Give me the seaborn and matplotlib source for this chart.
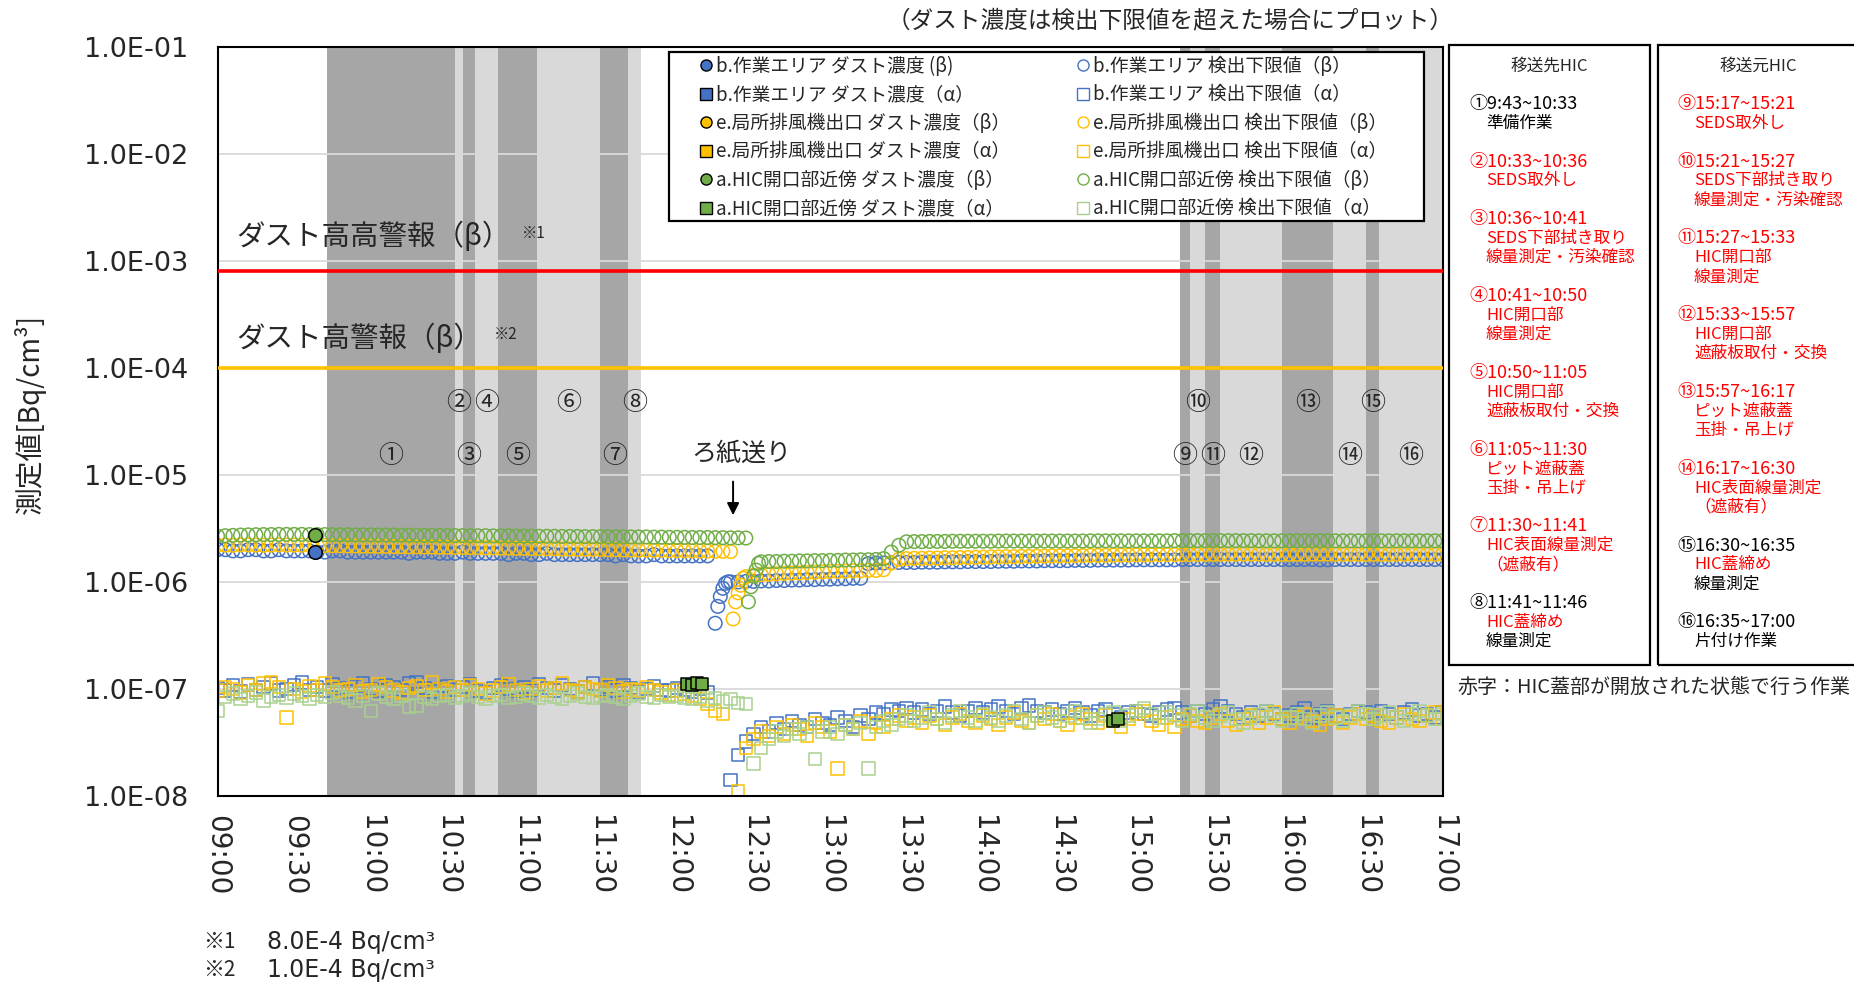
import matplotlib
matplotlib.use("Agg")
import matplotlib.pyplot as plt
import matplotlib.dates as mdates
import matplotlib.transforms as mtransforms
from matplotlib.lines import Line2D
from matplotlib.patches import Rectangle
from matplotlib.ticker import FuncFormatter, NullLocator
import seaborn as sns
import numpy as np
import pandas as pd

W, H = 1854, 984
DAY = "2024-01-01 "
nan = np.nan

# measurement grid (3 min) 09:00 - 17:00
grid_times = pd.date_range(DAY + "09:00", DAY + "17:00", freq="3min")

# detection limit (beta), unit 1e-8 Bq/cm3
b_beta_dl = [200, 200, 195, 195, 200, 200, 195, 195, 200, 195,
             195, 195, 195, 190, 190, 195, 195, 190, 190, 190,
             190, 190, 190, 190, 190, 185, 190, 190, 190, 185,
             185, 185, 190, 185, 185, 185, 185, 185, 180, 185,
             185, 180, 180, 185, 180, 180, 180, 180, 180, 180,
             180, 180, 175, 180, 175, 175, 175, 180, 175, 175,
             175, 175, 175, 175, 175, nan, nan,
             100, 100, 101,
             101, 102, 102, 103, 103, 104, 104, 105, 105, 106,
             106, 107, 107, 108, 108,
             148, 150, 150, 151, 152, 152,
             152, 153, 153, 153, 154, 154, 154, 155, 155,
             155, 155, 156, 156, 156, 157, 157, 157, 158, 158,
             158, 158, 159, 159, 159, 160, 160, 160, 160, 160,
             161, 161, 161, 161, 161, 161, 162, 162, 162, 162,
             162, 162, 162, 162, 162, 162, 162, 162, 162, 162,
             162, 162, 162, 162, 161, 161, 162, 162, 162, 162,
             162, 162, 162, 162, 162, 162, 162, 162, 162, 162, 162]
e_beta_dl = [220, 221, 220, 222, 222, 221, 220, 221, 222, 221,
             221, 220, 220, 219, 219, 218, 218, 217, 217, 216,
             216, 215, 215, 214, 214, 213, 213, 212, 212, 211,
             211, 210, 210, 209, 209, 208, 208, 207, 207, 206,
             206, 205, 205, 204, 204, 203, 203, 202, 202, 201,
             201, 200, 200, 199, 199, 198, 198, 197, 197, 196,
             196, 195, 195, 194, 194, 193, 193, 192,
             nan, 112,
             115, 117, 118, 119, 120, 121, 121, 122, 123, 124,
             125, 125, 126, 127, 127, 128, 128,
             130, 150, 163, 165,
             166, 166, 167, 167, 168, 168, 169, 169, 170,
             170, 171, 171, 172, 172, 173, 173, 174, 174, 175,
             175, 175, 176, 176, 177, 177, 177, 178, 178, 178,
             179, 179, 179, 180, 180, 180, 180, 180, 181, 181,
             181, 181, 181, 181, 182, 182, 182, 181, 181, 181,
             181, 181, 181, 182, 182, 182, 181, 181, 181, 181,
             181, 181, 181, 181, 181, 181, 181, 181, 181, 181, 181]
a_beta_dl = [268, 270, 272, 274, 275, 276, 277, 277, 278, 278,
             278, 278, 277, 277, 277, 276, 276, 276, 275, 275,
             275, 274, 274, 274, 273, 273, 273, 272, 272, 272,
             271, 271, 271, 270, 270, 270, 269, 269, 269, 268,
             268, 268, 267, 267, 267, 266, 266, 266, 265, 265,
             265, 264, 264, 264, 263, 263, 263, 262, 262, 261,
             261, 261, 260, 260, 260, 259, 259, 258, 258, 257,
             nan,
             154, 155, 155, 156, 156, 157, 157, 158, 158,
             159, 159, 160, 160, 161, 161, 162, 165,
             190, 220, 237,
             238, 238, 239, 239, 239, 240, 240, 240, 240,
             240, 240, 241, 241, 241, 241, 241, 241, 241, 241,
             241, 241, 241, 241, 242, 242, 242, 242, 242, 242,
             242, 242, 242, 242, 242, 243, 243, 243, 243, 243,
             243, 243, 243, 243, 243, 243, 242, 242, 242, 242,
             242, 242, 242, 242, 242, 242, 242, 242, 242, 242,
             242, 242, 242, 242, 242, 242, 242, 242, 242, 242, 242]

# recovery right after the filter feed (1 min steps), unit 1e-8
b_ramp_t = ["12:15", "12:16", "12:17", "12:18", "12:19", "12:20"]
b_ramp = [41, 59, 73, 87, 97, 100]
e_ramp_t = ["12:22", "12:23", "12:24", "12:25", "12:26"]
e_ramp = [45, 65, 79, 93, 108]
a_ramp_t = ["12:28", "12:29", "12:30", "12:31", "12:32"]
a_ramp = [65, 90, 113, 129, 149]

# detection limit (alpha), unit 1e-9 Bq/cm3
b_alpha_dl = [102, 96, 108, 94, 110, 98, 104, 112, 96, 100,
              108, 114, 98, 104, 96, 110, 102, 94, 106, 112,
              100, 96, 108, 104, 98, 112, 116, 102, 94, 100,
              106, 98, 104, 110, 96, 92, 102, 108, 100, 96,
              104, 98, 110, 102, 96, 108, 100, 94, 104, 112,
              98, 104, 96, 108, 102, 94, 100, 106, 98, 96,
              102, 98, 94, 100, 92, nan, nan,
              14, 24, 32,
              38, 44, 40, 48, 42, 50, 46, 44, 52, 48,
              46, 54, 50, 44, 56, 52, 60, 58, 64, 62,
              66, 60, 64, 58, 62, 68, 60, 56, 62, 66,
              60, 64, 68, 62, 58, 66, 70, 62, 60, 64,
              58, 62, 66, 60, 56, 62, 64, 58, 54, 60,
              62, 58, 56, 60, 64, 66, 60, 56, 62, 58,
              64, 68, 62, 58, 54, 60, 56, 62, 58, 52,
              56, 60, 66, 54, 58, 62, 56, 52, 58, 62,
              60, 56, 62, 58, 54, 60, 64, 56, 58, 54, 60]
e_alpha_dl = [96, 104, 100, 92, 108, 98, 112, 116, 104, 54,
              100, 94, 106, 98, 112, 104, 96, 100, 108, 94,
              98, 110, 104, 96, 92, 102, 106, 98, 114, 100,
              94, 104, 98, 108, 100, 90, 96, 104, 110, 98,
              92, 100, 106, 96, 102, 112, 98, 94, 104, 100,
              96, 108, 102, 94, 100, 96, 104, 98, 92, 88,
              96, 90, 86, 80, 72, 62, 58, nan,
              11, 28,
              34, 40, 36, 44, 38, 46, 42, 36, 48, 44,
              40, 18, 46, 42, 50, 38, 48, 44, 52, 56,
              50, 54, 48, 56, 52, 46, 54, 58, 50, 48,
              56, 52, 46, 54, 60, 50, 48, 56, 52, 58,
              50, 46, 54, 58, 52, 48, 56, 50, 44, 52,
              58, 62, 50, 46, 54, 44, 52, 56, 50, 48,
              54, 58, 50, 46, 52, 56, 48, 54, 60, 52,
              48, 54, 58, 50, 46, 52, 56, 48, 54, 58,
              52, 56, 50, 48, 54, 58, 52, 50, 56, 60, 52]
a_alpha_dl = [62, 84, 90, 80, 86, 92, 78, 84, 88, 82,
              90, 86, 80, 88, 84, 92, 86, 82, 78, 86,
              62, 90, 84, 80, 86, 68, 70, 84, 80, 86,
              88, 82, 86, 90, 84, 80, 86, 88, 82, 84,
              90, 86, 82, 88, 84, 80, 86, 90, 84, 82,
              86, 88, 84, 80, 86, 90, 84, 82, 88, 84,
              86, 82, 80, 84, 78, 82, 76, 80, 74, 72,
              20, 28, 34, 40, 36, 42, 38, 44, 22, 40,
              44, 38, 46, 42, 48, 18, 44, 50, 46, 52,
              56, 50, 54, 60, 52, 48, 56, 62, 54, 50,
              58, 54, 50, 56, 62, 52, 48, 56, 60, 54,
              50, 56, 62, 54, 48, 52, 58, 60, 50, 56,
              62, 66, 58, 54, 60, 56, 50, 58, 62, 54,
              50, 56, 60, 52, 48, 54, 58, 62, 56, 50,
              54, 58, 52, 48, 56, 60, 54, 50, 56, 62,
              58, 52, 56, 60, 54, 50, 58, 62, 56, 52, 58]

# dust concentration above detection limit (few points)
b_beta_dust_t = ["09:38"]
b_beta_dust = [190]          # 1e-8
a_beta_dust_t = ["09:38"]
a_beta_dust = [277]          # 1e-8
a_alpha_dust_t = ["12:04", "12:06", "12:08", "12:10", "14:51", "14:53"]
a_alpha_dust = [112, 108, 114, 110, 50, 52]   # 1e-9

# work steps
band_marks = ["①", "②", "③", "④", "⑤", "⑥", "⑦", "⑧",
              "⑨", "⑩", "⑪", "⑫", "⑬", "⑭", "⑮", "⑯"]
band_start = ["09:43", "10:33", "10:36", "10:41", "10:50", "11:05", "11:30", "11:41",
              "15:17", "15:21", "15:27", "15:33", "15:57", "16:17", "16:30", "16:35"]
band_end = ["10:33", "10:36", "10:41", "10:50", "11:05", "11:30", "11:41", "11:46",
            "15:21", "15:27", "15:33", "15:57", "16:17", "16:30", "16:35", "17:00"]
upper_marks = {"②", "④", "⑥", "⑧", "⑩", "⑬", "⑮"}

alarm_hh = 8.0e-4
alarm_h = 1.0e-4

legend_labels = ["b.作業エリア ダスト濃度 (β)", "b.作業エリア ダスト濃度（α）",
                 "e.局所排風機出口 ダスト濃度（β）", "e.局所排風機出口 ダスト濃度（α）",
                 "a.HIC開口部近傍 ダスト濃度（β）", "a.HIC開口部近傍 ダスト濃度（α）",
                 "b.作業エリア 検出下限値（β）", "b.作業エリア 検出下限値（α）",
                 "e.局所排風機出口 検出下限値（β）", "e.局所排風機出口 検出下限値（α）",
                 "a.HIC開口部近傍 検出下限値（β）", "a.HIC開口部近傍 検出下限値（α）"]

dest_items = [["①9:43~10:33", "準備作業"],
              ["②10:33~10:36", "SEDS取外し"],
              ["③10:36~10:41", "SEDS下部拭き取り", "線量測定・汚染確認"],
              ["④10:41~10:50", "HIC開口部", "線量測定"],
              ["⑤10:50~11:05", "HIC開口部", "遮蔽板取付・交換"],
              ["⑥11:05~11:30", "ピット遮蔽蓋", "玉掛・吊上げ"],
              ["⑦11:30~11:41", "HIC表面線量測定", "（遮蔽有）"],
              ["⑧11:41~11:46", "HIC蓋締め", "線量測定"]]
dest_red = [[0, 0], [1, 1], [1, 1, 1], [1, 1, 1], [1, 1, 1], [1, 1, 1], [1, 1, 1], [0, 1, 0]]
src_items = [["⑨15:17~15:21", "SEDS取外し"],
             ["⑩15:21~15:27", "SEDS下部拭き取り", "線量測定・汚染確認"],
             ["⑪15:27~15:33", "HIC開口部", "線量測定"],
             ["⑫15:33~15:57", "HIC開口部", "遮蔽板取付・交換"],
             ["⑬15:57~16:17", "ピット遮蔽蓋", "玉掛・吊上げ"],
             ["⑭16:17~16:30", "HIC表面線量測定", "（遮蔽有）"],
             ["⑮16:30~16:35", "HIC蓋締め", "線量測定"],
             ["⑯16:35~17:00", "片付け作業"]]
src_red = [[1, 1], [1, 1, 1], [1, 1, 1], [1, 1, 1], [1, 1, 1], [1, 1, 1], [0, 1, 0], [0, 0]]

BLUE, ORANGE, GREEN, LGREEN = "#4472C4", "#FFC000", "#70AD47", "#A9D18E"
DARK, LIGHT = "#A6A6A6", "#D9D9D9"
RED = "#FF0000"

sns.set_style("white")
plt.rcParams["font.family"] = ["Noto Sans CJK JP", "DejaVu Sans"]


def fx(x):
    return x / W


def fy(y):
    return 1 - y / H


def tnum(s):
    return mdates.date2num(pd.Timestamp(DAY + s))


def to_times(lst):
    return pd.to_datetime([DAY + s for s in lst])


fig = plt.figure(figsize=(W / 100, H / 100), dpi=100)
ax = fig.add_axes([fx(217.6), fy(795.7), (1442.5 - 217.6) / W, (795.7 - 47.3) / H])
ax.set_yscale("log")


def dots(t, v, unit, marker, color, filled=False, z=2):
    y = np.asarray(v, dtype=float) * unit
    sns.scatterplot(x=t, y=y, ax=ax, marker=marker, s=95 if marker == "o" else 80,
                    facecolor=color if filled else "none",
                    edgecolor="k" if filled else color,
                    linewidth=1.1, zorder=z, legend=False)


# bands for work steps
for i, (s, e) in enumerate(zip(band_start, band_end)):
    ax.axvspan(tnum(s), tnum(e), color=DARK if i % 2 == 0 else LIGHT, lw=0, zorder=0.1)

# alpha detection limits
dots(grid_times, b_alpha_dl, 1e-9, "s", BLUE, z=2)
dots(grid_times, e_alpha_dl, 1e-9, "s", ORANGE, z=2.1)
dots(grid_times, a_alpha_dl, 1e-9, "s", LGREEN, z=2.2)
# beta detection limits
dots(grid_times, b_beta_dl, 1e-8, "o", BLUE, z=2.3)
dots(to_times(b_ramp_t), b_ramp, 1e-8, "o", BLUE, z=2.3)
dots(grid_times, e_beta_dl, 1e-8, "o", ORANGE, z=2.4)
dots(to_times(e_ramp_t), e_ramp, 1e-8, "o", ORANGE, z=2.4)
dots(grid_times, a_beta_dl, 1e-8, "o", GREEN, z=2.5)
dots(to_times(a_ramp_t), a_ramp, 1e-8, "o", GREEN, z=2.5)
# dust concentrations
dots(to_times(b_beta_dust_t), b_beta_dust, 1e-8, "o", BLUE, filled=True, z=2.6)
dots(to_times(a_beta_dust_t), a_beta_dust, 1e-8, "o", GREEN, filled=True, z=2.6)
dots(to_times(a_alpha_dust_t), a_alpha_dust, 1e-9, "s", GREEN, filled=True, z=2.6)

ax.axhline(alarm_hh, color=RED, lw=2.6, zorder=3)
ax.axhline(alarm_h, color=ORANGE, lw=2.6, zorder=3)

ax.set_xlim(tnum("09:00"), tnum("17:00"))
ax.set_ylim(1e-8, 1e-1)
ax.set_yticks([10.0 ** k for k in range(-8, 0)])
ax.yaxis.set_minor_locator(NullLocator())
ax.yaxis.set_major_formatter(FuncFormatter(lambda v, p: f"{v:.1E}"))
ax.xaxis.set_major_locator(mdates.MinuteLocator(byminute=[0, 30]))
ax.xaxis.set_major_formatter(mdates.DateFormatter("%H:%M"))
ax.tick_params(axis="y", length=0, pad=21, labelsize=19.5)
ax.tick_params(axis="x", length=0, pad=14, labelsize=20, labelrotation=-90)
for lab in ax.get_xticklabels() + ax.get_yticklabels():
    lab.set_fontfamily("DejaVu Sans")
ax.set_axisbelow(True)
ax.yaxis.grid(True, color=LIGHT, lw=1.3)
ax.xaxis.grid(False)
for sp in ax.spines.values():
    sp.set_color("k")
    sp.set_linewidth(1.5)
ax.set_xlabel("")
ax.set_ylabel("")

# circled step numbers
blend = mtransforms.blended_transform_factory(ax.transData, ax.transAxes)
for m, s, e in zip(band_marks, band_start, band_end):
    xc = (tnum(s) + tnum(e)) / 2
    yc = 0.5247 if m in upper_marks else 0.4534
    ax.text(xc, yc, m, transform=blend, ha="center", va="center", fontsize=18, zorder=4)

# filter feed note
ax.annotate("", xy=(tnum("12:22"), 3.96e-6), xytext=(tnum("12:22"), 9.2e-6),
            arrowprops=dict(arrowstyle="-|>", color="k", lw=1.4, mutation_scale=18), zorder=4)
fig.text(fx(741), fy(454), "ろ紙送り", ha="center", va="center", fontsize=18)

# alarm labels
fig.text(fx(236), fy(237), "ダスト高高警報（β）", ha="left", va="center", fontsize=20.5)
fig.text(fx(522), fy(233), "※1", ha="left", va="center", fontsize=11)
fig.text(fx(236), fy(339), "ダスト高警報（β）", ha="left", va="center", fontsize=20.5)
fig.text(fx(494), fy(334), "※2", ha="left", va="center", fontsize=11)

fig.text(fx(1170), fy(21), "（ダスト濃度は検出下限値を超えた場合にプロット）",
         ha="center", va="center", fontsize=17)
fig.text(fx(30), fy(414), "測定値[Bq/cm³]", rotation=90, ha="center", va="center", fontsize=20)

# footnotes for alarm levels
fig.text(fx(203), fy(942), "※1", ha="left", va="center", fontsize=15)
fig.text(fx(267), fy(942), "8.0E-4 Bq/cm³", ha="left", va="center", fontsize=17,
         family=["DejaVu Sans", "Noto Sans CJK JP"])
fig.text(fx(203), fy(970), "※2", ha="left", va="center", fontsize=15)
fig.text(fx(267), fy(970), "1.0E-4 Bq/cm³", ha="left", va="center", fontsize=17,
         family=["DejaVu Sans", "Noto Sans CJK JP"])

# legend
colors = [BLUE, ORANGE, GREEN]
handles = []
for c in colors:
    handles.append(Line2D([], [], ls="none", marker="o", ms=8, mfc=c, mec="k", mew=1.0))
    handles.append(Line2D([], [], ls="none", marker="s", ms=8, mfc=c, mec="k", mew=1.0))
for c, c2 in zip(colors, [BLUE, ORANGE, LGREEN]):
    handles.append(Line2D([], [], ls="none", marker="o", ms=8, mfc="none", mec=c, mew=1.0))
    handles.append(Line2D([], [], ls="none", marker="s", ms=8, mfc="none", mec=c2, mew=1.0))
fig.add_artist(Rectangle((fx(669), fy(221)), (1424 - 669) / W, (221 - 52) / H,
                         transform=fig.transFigure, fc="white", ec="k", lw=1.6, zorder=4))
leg = fig.legend(handles=handles, labels=legend_labels, loc="upper left",
                 bbox_to_anchor=(fx(698.5), fy(56)), ncol=2, frameon=False,
                 fontsize=13.5, handlelength=0.8, handletextpad=0.15,
                 columnspacing=3.45, labelspacing=0.4, borderpad=0, borderaxespad=0)
leg.set_zorder(5)

# side boxes with work descriptions
for x0, x1 in [(1449, 1650), (1658, 1900)]:
    fig.add_artist(Rectangle((fx(x0), fy(665)), (x1 - x0) / W, (665 - 45) / H,
                             transform=fig.transFigure, fill=False, ec="k", lw=1.6))
fig.text(fx(1549), fy(66), "移送先HIC", ha="center", va="center", fontsize=12)
fig.text(fx(1758), fy(66), "移送元HIC", ha="center", va="center", fontsize=12)

STEP = 19.2
for items, reds, xn, xi in [(dest_items, dest_red, 1469, 1486), (src_items, src_red, 1677, 1694)]:
    y = 104
    for lines, rr in zip(items, reds):
        for j, (txt, r) in enumerate(zip(lines, rr)):
            fig.text(fx(xn if j == 0 else xi), fy(y), txt, ha="left", va="center",
                     fontsize=13 if j == 0 else 12, color=RED if r else "k")
            y += STEP
        y += STEP

fig.text(fx(1457), fy(687), "赤字：HIC蓋部が開放された状態で行う作業", ha="left", va="center", fontsize=14.4)

fig.savefig("out.png", dpi=100)
